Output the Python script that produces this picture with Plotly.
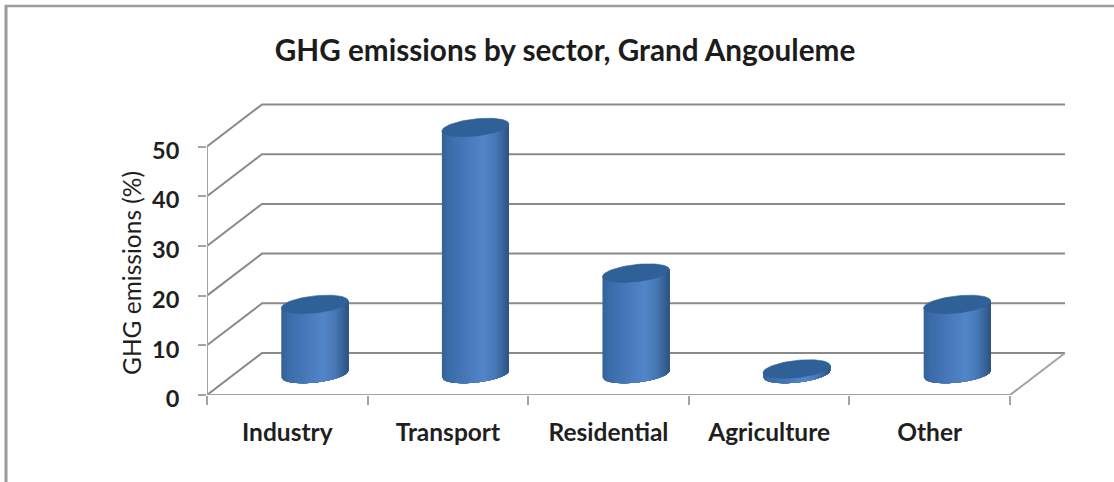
import numpy as np
import plotly.graph_objects as go

categories = ["Industry", "Transport", "Residential", "Agriculture", "Other"]
values = [14, 49.6, 20.3, 1, 14]
y_ticks = [0, 10, 20, 30, 40, 50]
title_text = "GHG emissions by sector, Grand Angouleme"
y_title = "GHG emissions (%)"

PX_X = 160.5   # pixels per category
PX_Y = 4.97    # pixels per value unit
LEFT, RIGHT_BACK, ZERO, TOP = 207, 1066, 395, 90
W, H = 1114, 482
DEPTH_X = 55 / PX_X
DEPTH_Y = 42 / PX_Y

GRID = "#8a8a8a"
AXIS = "#a3a3a3"
FRAME = "#9c9c9c"

traces = []


def line(xs, ys, color, width):
    traces.append(go.Scatter(x=xs, y=ys, mode="lines", hoverinfo="skip", cliponaxis=False,
                             line=dict(color=color, width=width), showlegend=False))


# back wall grid lines and side wall diagonals
for v in y_ticks:
    line([-0.5, -0.5 + DEPTH_X, 4.5 + DEPTH_X], [v, v + DEPTH_Y, v + DEPTH_Y], GRID, 2)
# floor and axes
line([4.5, 4.5 + DEPTH_X], [0, DEPTH_Y], AXIS, 2)
line([-0.5, 4.5], [0, 0], AXIS, 2)
line([-0.5, -0.5], [0, 50], AXIS, 2)

# cylinders
HALF_W = 33.5 / PX_X
SHEAR = 3.5 / PX_Y
MINOR = 8.6 / PX_Y
N_STRIPS = 40
stops_u = [-1.0, -0.82, -0.35, 0.25, 0.6, 0.85, 1.0]
stops_c = [(52, 98, 150), (58, 108, 168), (70, 118, 184), (82, 134, 200),
           (72, 120, 182), (54, 98, 150), (44, 84, 130)]


def blend(u):
    return "rgb(%d,%d,%d)" % tuple(np.interp(u, stops_u, [c[i] for c in stops_c]) for i in range(3))


edges = np.linspace(-1, 1, N_STRIPS + 1)
for i, val in enumerate(values):
    cx = i + 0.5 * DEPTH_X
    y0 = 0.5 * DEPTH_Y
    y1 = y0 + val
    # painter's order: each strip reaches the right edge and the next one overwrites it
    for a in edges[:-1]:
        us = np.linspace(a, 1, 40)
        circ = np.sqrt(np.clip(1 - us ** 2, 0, 1))
        low = y0 + SHEAR * us - MINOR * circ
        up = y1 + SHEAR * us
        xs = np.concatenate([cx + HALF_W * us, cx + HALF_W * us[::-1]])
        ys = np.concatenate([low, up[::-1]])
        col = blend(a + 1 / N_STRIPS)
        traces.append(go.Scatter(x=xs, y=ys, mode="lines", fill="toself", fillcolor=col,
                                 line=dict(width=0), hoverinfo="skip",
                                 cliponaxis=False, showlegend=False))
    t = np.linspace(0, 2 * np.pi, 80)
    traces.append(go.Scatter(
        x=cx + HALF_W * np.cos(t),
        y=y1 + SHEAR * np.cos(t) + MINOR * np.sin(t),
        mode="lines", fill="toself", fillcolor="#2f6098",
        line=dict(color="#2f6098", width=0.6), hoverinfo="skip",
        cliponaxis=False, showlegend=False))

fig = go.Figure(traces)
FONT = "Lato, Carlito, Calibri, sans-serif"
PW, PH = RIGHT_BACK - LEFT, ZERO - TOP


def paper_x(px):
    return (px - LEFT) / PW


def paper_y(py):
    return (ZERO - py) / PH


fig.update_layout(
    width=W, height=H,
    margin=dict(l=LEFT, r=W - RIGHT_BACK, t=TOP, b=H - ZERO, pad=0),
    paper_bgcolor="white", plot_bgcolor="white",
    showlegend=False,
    font=dict(family=FONT, color="#1f1f1f"),
    title=dict(text=title_text, x=565 / W, xanchor="center", y=1 - 51 / H, yanchor="middle",
               font=dict(family=FONT, size=29.7, color="#1c1c1c", weight=700)),
    xaxis=dict(range=[-0.5, 4.5 + (RIGHT_BACK - 1010) / PX_X], showgrid=False, zeroline=False, showline=False,
               tickvals=list(range(len(categories))), ticktext=categories, ticks="",
               ticklabelstandoff=20, tickfont=dict(size=24.5, family=FONT, weight=700, color="#1f1f1f"),
               minor=dict(tickvals=[i - 0.5 for i in range(len(categories) + 1)], ticks="outside",
                          ticklen=9, tickwidth=2, tickcolor=AXIS, showgrid=False)),
    yaxis=dict(range=[0, PH / PX_Y], showgrid=False, zeroline=False, showline=False,
               tickvals=y_ticks, ticks="outside", ticklen=8, tickwidth=2, tickcolor=AXIS,
               ticklabelstandoff=14, ticklabelshift=4,
               tickfont=dict(size=23.5, family=FONT, weight=700, color="#1f1f1f")),
    annotations=[dict(text=y_title, xref="paper", yref="paper", x=paper_x(131), y=paper_y(273),
                      xanchor="center", yanchor="middle", textangle=-90, showarrow=False,
                      font=dict(size=24.5, family=FONT, color="#1f1f1f"))],
    shapes=[
        dict(type="line", xref="paper", yref="paper", layer="below",
             x0=paper_x(6), x1=paper_x(6), y0=paper_y(H), y1=paper_y(5),
             line=dict(color=FRAME, width=3)),
        dict(type="line", xref="paper", yref="paper", layer="below",
             x0=paper_x(5), x1=paper_x(W), y0=paper_y(6), y1=paper_y(6),
             line=dict(color=FRAME, width=2.5)),
    ],
)
fig.write_html("out.html", config={"displayModeBar": False},
               post_script="document.body.style.margin='0';document.body.style.overflow='hidden';")
